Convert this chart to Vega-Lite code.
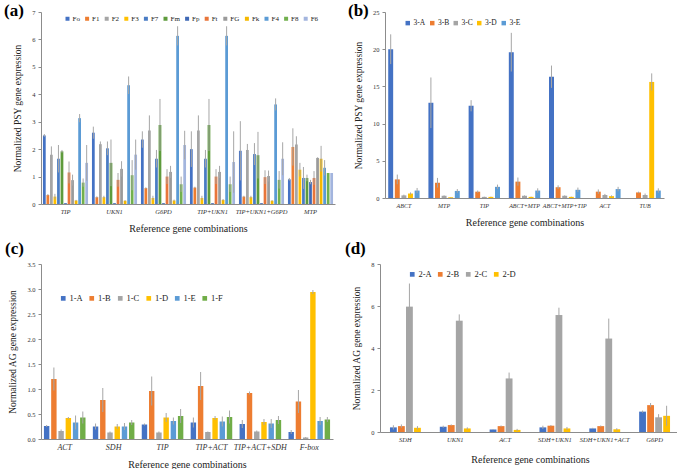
{
"$schema": "https://vega.github.io/schema/vega-lite/v6.json",
"padding": {"left": 4, "top": 2, "right": 0, "bottom": 0},
"background": "white",
"spacing": 6,
"config": {
  "view": {"stroke": null},
  "font": "Liberation Serif",
  "axis": {"domainColor": "#8c8c8c", "tickColor": "#8c8c8c", "labelColor": "#333", "titleColor": "#222", "titleFontWeight": "normal", "labelFont": "Liberation Serif", "titleFont": "Liberation Serif", "grid": false},
  "axisX": {"labelFontStyle": "italic", "labelFontSize": 7, "labelAngle": 0, "ticks": false, "titleFontSize": 10, "titlePadding": 9, "labelPadding": 4, "labelOverlap": false},
  "axisY": {"labelFontSize": 6.5, "titleFontSize": 9.5, "tickSize": 3, "titlePadding": 9, "labelPadding": 3},
  "legend": {"orient": "none", "direction": "horizontal", "symbolType": "square", "labelFont": "Liberation Serif", "labelColor": "#222", "symbolStrokeWidth": 0, "title": null},
  "title": {"font": "Liberation Serif", "fontWeight": "bold", "fontSize": 17, "anchor": "start", "frame": "group", "color": "#000"}
},
"resolve": {"scale": {"color": "independent", "x": "independent", "y": "independent", "xOffset": "independent"}},
"vconcat": [
{
"spacing": 13,
"resolve": {"scale": {"color": "independent", "x": "independent", "y": "independent", "xOffset": "independent"}},
"hconcat": [
{
  "width": 294, "height": 192,
  "title": {"text": "(a)", "dx": -37, "offset": -11},
  "data": {"values": [
    {"c":"TIP","s":"Fo","v":2.5,"e":0.05},{"c":"TIP","s":"F1","v":0.33,"e":0.03},{"c":"TIP","s":"F2","v":1.8,"e":0.3},{"c":"TIP","s":"F3","v":0.27,"e":0.1},{"c":"TIP","s":"F7","v":1.65,"e":0.5},{"c":"TIP","s":"Fm","v":1.92,"e":0.05},{"c":"TIP","s":"Fp","v":0.03,"e":0},{"c":"TIP","s":"Ft","v":1.15,"e":0.4},{"c":"TIP","s":"FG","v":0.87,"e":0.2},{"c":"TIP","s":"Fk","v":0.13,"e":0.02},{"c":"TIP","s":"F4","v":3.13,"e":0.15},{"c":"TIP","s":"F8","v":0.78,"e":0.15},{"c":"TIP","s":"F6","v":1.5,"e":0.65},
    {"c":"UKN1","s":"Fo","v":2.6,"e":0.22},{"c":"UKN1","s":"F1","v":0.25,"e":0.03},{"c":"UKN1","s":"F2","v":2.18,"e":0.1},{"c":"UKN1","s":"F3","v":0.25,"e":0.05},{"c":"UKN1","s":"F7","v":2.03,"e":0.25},{"c":"UKN1","s":"Fm","v":1.5,"e":0.85},{"c":"UKN1","s":"Fp","v":0.03,"e":0},{"c":"UKN1","s":"Ft","v":0.88,"e":0.25},{"c":"UKN1","s":"FG","v":1.28,"e":0.28},{"c":"UKN1","s":"Fk","v":0.12,"e":0.02},{"c":"UKN1","s":"F4","v":4.33,"e":0.32},{"c":"UKN1","s":"F8","v":1.05,"e":0.55},{"c":"UKN1","s":"F6","v":1.8,"e":0.55},
    {"c":"G6PD","s":"Fo","v":2.35,"e":0.3},{"c":"G6PD","s":"F1","v":0.58,"e":0.03},{"c":"G6PD","s":"F2","v":2.68,"e":0.55},{"c":"G6PD","s":"F3","v":0.22,"e":0.08},{"c":"G6PD","s":"F7","v":1.65,"e":0.32},{"c":"G6PD","s":"Fm","v":2.88,"e":0.95},{"c":"G6PD","s":"Fp","v":0.03,"e":0},{"c":"G6PD","s":"Ft","v":1.0,"e":0.27},{"c":"G6PD","s":"FG","v":1.17,"e":0.22},{"c":"G6PD","s":"Fk","v":0.13,"e":0.03},{"c":"G6PD","s":"F4","v":6.13,"e":0.35},{"c":"G6PD","s":"F8","v":0.72,"e":0.28},{"c":"G6PD","s":"F6","v":2.15,"e":0.52},
    {"c":"TIP+UKN1","s":"Fo","v":2.0,"e":0.65},{"c":"TIP+UKN1","s":"F1","v":0.6,"e":0.03},{"c":"TIP+UKN1","s":"F2","v":2.68,"e":0.55},{"c":"TIP+UKN1","s":"F3","v":0.22,"e":0.08},{"c":"TIP+UKN1","s":"F7","v":1.65,"e":0.32},{"c":"TIP+UKN1","s":"Fm","v":2.88,"e":0.95},{"c":"TIP+UKN1","s":"Fp","v":0.03,"e":0},{"c":"TIP+UKN1","s":"Ft","v":1.0,"e":0.27},{"c":"TIP+UKN1","s":"FG","v":1.17,"e":0.22},{"c":"TIP+UKN1","s":"Fk","v":0.15,"e":0.03},{"c":"TIP+UKN1","s":"F4","v":6.13,"e":0.35},{"c":"TIP+UKN1","s":"F8","v":0.72,"e":0.28},{"c":"TIP+UKN1","s":"F6","v":1.53,"e":1.12},
    {"c":"TIP+UKN1+G6PD","s":"Fo","v":1.94,"e":1.08},{"c":"TIP+UKN1+G6PD","s":"F1","v":0.27,"e":0.03},{"c":"TIP+UKN1+G6PD","s":"F2","v":1.97,"e":0.22},{"c":"TIP+UKN1+G6PD","s":"F3","v":0.25,"e":0.05},{"c":"TIP+UKN1+G6PD","s":"F7","v":1.82,"e":0.4},{"c":"TIP+UKN1+G6PD","s":"Fm","v":1.78,"e":0.85},{"c":"TIP+UKN1+G6PD","s":"Fp","v":0.03,"e":0},{"c":"TIP+UKN1+G6PD","s":"Ft","v":0.98,"e":0.25},{"c":"TIP+UKN1+G6PD","s":"FG","v":1.02,"e":0.2},{"c":"TIP+UKN1+G6PD","s":"Fk","v":0.12,"e":0.02},{"c":"TIP+UKN1+G6PD","s":"F4","v":3.63,"e":0.22},{"c":"TIP+UKN1+G6PD","s":"F8","v":0.88,"e":0.32},{"c":"TIP+UKN1+G6PD","s":"F6","v":1.65,"e":0.6},
    {"c":"MTP","s":"Fo","v":0.9,"e":0.05},{"c":"MTP","s":"F1","v":2.08,"e":0.68},{"c":"MTP","s":"F2","v":2.17,"e":0.3},{"c":"MTP","s":"F3","v":1.25,"e":0.25},{"c":"MTP","s":"F7","v":0.95,"e":0.4},{"c":"MTP","s":"Fm","v":0.95,"e":0.12},{"c":"MTP","s":"Fp","v":0.8,"e":0.08},{"c":"MTP","s":"Ft","v":0.95,"e":0.25},{"c":"MTP","s":"FG","v":1.68,"e":0.02},{"c":"MTP","s":"Fk","v":1.65,"e":0.47},{"c":"MTP","s":"F4","v":1.32,"e":0.28},{"c":"MTP","s":"F8","v":1.13,"e":0},{"c":"MTP","s":"F6","v":1.13,"e":0}
  ]},
  "encoding": {
    "x": {"field": "c", "type": "nominal", "sort": ["TIP","UKN1","G6PD","TIP+UKN1","TIP+UKN1+G6PD","MTP"], "scale": {"paddingInner": 0.08, "paddingOuter": 0.04}, "axis": {"title": "Reference gene combinations", "labelFontSize": 6.5}},
    "xOffset": {"field": "s", "type": "nominal", "sort": ["Fo","F1","F2","F3","F7","Fm","Fp","Ft","FG","Fk","F4","F8","F6"], "scale": {"paddingInner": 0.22}},
    "y": {"field": "v", "type": "quantitative", "scale": {"domain": [0, 7], "clamp": true}, "axis": {"title": "Normalized PSY gene expression", "values": [0,1,2,3,4,5,6,7]}}
  },
  "layer": [
    {"mark": {"type": "bar"}, "encoding": {
      "color": {"field": "s", "type": "nominal", "scale": {"domain": ["Fo","F1","F2","F3","F7","Fm","Fp","Ft","FG","Fk","F4","F8","F6"], "range": ["#4472C4","#ED7D31","#A5A5A5","#FFC000","#4A7CC4","#5E9B3C","#3F68B5","#E8753A","#9A9A9A","#F5B800","#5B9BD5","#72B04E","#A3B5DE"]},
        "legend": {"legendX": 23, "legendY": 3, "columns": 13, "symbolSize": 16, "labelFontSize": 7, "labelOffset": 1.5, "columnPadding": 3.6}}
    }},
    {"mark": {"type": "errorbar", "color": "#a6a6a6", "thickness": 1}, "encoding": {"yError": {"field": "e"}}}
  ]
},
{
  "width": 279, "height": 186,
  "title": {"text": "(b)", "dx": -37, "offset": -11},
  "data": {"values": [
    {"c":"ABCT","s":"3-A","v":20.0,"e":2.0},{"c":"ABCT","s":"3-B","v":2.5,"e":0.65},{"c":"ABCT","s":"3-C","v":0.35,"e":0.1},{"c":"ABCT","s":"3-D","v":0.6,"e":0.15},{"c":"ABCT","s":"3-E","v":1.0,"e":0.35},
    {"c":"MTP","s":"3-A","v":12.8,"e":3.4},{"c":"MTP","s":"3-B","v":2.05,"e":0.65},{"c":"MTP","s":"3-C","v":0.3,"e":0.05},{"c":"MTP","s":"3-D","v":0.1,"e":0.03},{"c":"MTP","s":"3-E","v":0.95,"e":0.25},
    {"c":"TIP","s":"3-A","v":12.4,"e":0.75},{"c":"TIP","s":"3-B","v":0.85,"e":0.15},{"c":"TIP","s":"3-C","v":0.15,"e":0.03},{"c":"TIP","s":"3-D","v":0.15,"e":0.03},{"c":"TIP","s":"3-E","v":1.5,"e":0.3},
    {"c":"ABCT+MTP","s":"3-A","v":19.6,"e":2.6},{"c":"ABCT+MTP","s":"3-B","v":2.2,"e":0.55},{"c":"ABCT+MTP","s":"3-C","v":0.3,"e":0.05},{"c":"ABCT+MTP","s":"3-D","v":0.15,"e":0.03},{"c":"ABCT+MTP","s":"3-E","v":1.0,"e":0.3},
    {"c":"ABCT+MTP+TIP","s":"3-A","v":16.3,"e":1.5},{"c":"ABCT+MTP+TIP","s":"3-B","v":1.45,"e":0.25},{"c":"ABCT+MTP+TIP","s":"3-C","v":0.3,"e":0.05},{"c":"ABCT+MTP+TIP","s":"3-D","v":0.15,"e":0.03},{"c":"ABCT+MTP+TIP","s":"3-E","v":1.1,"e":0.3},
    {"c":"ACT","s":"3-A","v":0,"e":0},{"c":"ACT","s":"3-B","v":0.85,"e":0.3},{"c":"ACT","s":"3-C","v":0.4,"e":0.15},{"c":"ACT","s":"3-D","v":0.25,"e":0.1},{"c":"ACT","s":"3-E","v":1.2,"e":0.3},
    {"c":"TUB","s":"3-A","v":0,"e":0},{"c":"TUB","s":"3-B","v":0.75,"e":0.1},{"c":"TUB","s":"3-C","v":0.4,"e":0.2},{"c":"TUB","s":"3-D","v":15.6,"e":1.15},{"c":"TUB","s":"3-E","v":1.0,"e":0.3}
  ]},
  "encoding": {
    "x": {"field": "c", "type": "nominal", "sort": ["ABCT","MTP","TIP","ABCT+MTP","ABCT+MTP+TIP","ACT","TUB"], "scale": {"paddingInner": 0.22, "paddingOuter": 0.08}, "axis": {"title": "Reference gene combinations", "labelFontSize": 6}},
    "xOffset": {"field": "s", "type": "nominal", "sort": ["3-A","3-B","3-C","3-D","3-E"], "scale": {"paddingInner": 0.25}},
    "y": {"field": "v", "type": "quantitative", "scale": {"domain": [0, 25], "clamp": true}, "axis": {"title": "Normalized PSY gene expression", "values": [0,5,10,15,20,25]}}
  },
  "layer": [
    {"mark": {"type": "bar"}, "encoding": {
      "color": {"field": "s", "type": "nominal", "scale": {"domain": ["3-A","3-B","3-C","3-D","3-E"], "range": ["#4472C4","#ED7D31","#A5A5A5","#FFC000","#5B9BD5"]},
        "legend": {"legendX": 19, "legendY": 7, "columns": 5, "symbolSize": 20, "labelFontSize": 7.5, "labelOffset": 2, "columnPadding": 2.5}}
    }},
    {"mark": {"type": "errorbar", "color": "#a6a6a6", "thickness": 1}, "encoding": {"yError": {"field": "e"}}}
  ]
}
]
},
{
"spacing": 12,
"resolve": {"scale": {"color": "independent", "x": "independent", "y": "independent", "xOffset": "independent"}},
"hconcat": [
{
  "width": 292, "height": 175,
  "title": {"text": "(c)", "dx": -36, "offset": 3},
  "data": {"values": [
    {"c":"ACT","s":"1-A","v":0.26,"e":0.02},{"c":"ACT","s":"1-B","v":1.2,"e":0.23},{"c":"ACT","s":"1-C","v":0.16,"e":0.03},{"c":"ACT","s":"1-D","v":0.42,"e":0.02},{"c":"ACT","s":"1-E","v":0.33,"e":0.14},{"c":"ACT","s":"1-F","v":0.43,"e":0.12},
    {"c":"SDH","s":"1-A","v":0.25,"e":0.06},{"c":"SDH","s":"1-B","v":0.78,"e":0.24},{"c":"SDH","s":"1-C","v":0.13,"e":0.02},{"c":"SDH","s":"1-D","v":0.25,"e":0.05},{"c":"SDH","s":"1-E","v":0.25,"e":0.07},{"c":"SDH","s":"1-F","v":0.33,"e":0.05},
    {"c":"TIP","s":"1-A","v":0.29,"e":0.02},{"c":"TIP","s":"1-B","v":0.96,"e":0.29},{"c":"TIP","s":"1-C","v":0.13,"e":0.02},{"c":"TIP","s":"1-D","v":0.43,"e":0.09},{"c":"TIP","s":"1-E","v":0.36,"e":0.07},{"c":"TIP","s":"1-F","v":0.46,"e":0.14},
    {"c":"TIP+ACT","s":"1-A","v":0.33,"e":0.1},{"c":"TIP+ACT","s":"1-B","v":1.06,"e":0.28},{"c":"TIP+ACT","s":"1-C","v":0.14,"e":0.01},{"c":"TIP+ACT","s":"1-D","v":0.42,"e":0.04},{"c":"TIP+ACT","s":"1-E","v":0.35,"e":0.1},{"c":"TIP+ACT","s":"1-F","v":0.44,"e":0.13},
    {"c":"TIP+ACT+SDH","s":"1-A","v":0.3,"e":0.08},{"c":"TIP+ACT+SDH","s":"1-B","v":0.92,"e":0.03},{"c":"TIP+ACT+SDH","s":"1-C","v":0.15,"e":0.02},{"c":"TIP+ACT+SDH","s":"1-D","v":0.34,"e":0.06},{"c":"TIP+ACT+SDH","s":"1-E","v":0.31,"e":0.09},{"c":"TIP+ACT+SDH","s":"1-F","v":0.38,"e":0.08},
    {"c":"F-box","s":"1-A","v":0.14,"e":0.04},{"c":"F-box","s":"1-B","v":0.75,"e":0.23},{"c":"F-box","s":"1-C","v":0.03,"e":0.01},{"c":"F-box","s":"1-D","v":2.94,"e":0.04},{"c":"F-box","s":"1-E","v":0.36,"e":0.08},{"c":"F-box","s":"1-F","v":0.39,"e":0.05}
  ]},
  "encoding": {
    "x": {"field": "c", "type": "nominal", "sort": ["ACT","SDH","TIP","TIP+ACT","TIP+ACT+SDH","F-box"], "scale": {"paddingInner": 0.15, "paddingOuter": 0.06}, "axis": {"title": "Reference gene combinations", "labelFontSize": 8, "titlePadding": 8}},
    "xOffset": {"field": "s", "type": "nominal", "sort": ["1-A","1-B","1-C","1-D","1-E","1-F"], "scale": {"paddingInner": 0.25}},
    "y": {"field": "v", "type": "quantitative", "scale": {"domain": [0, 3.5], "clamp": true}, "axis": {"title": "Normalized AG gene expression", "values": [0,0.5,1,1.5,2,2.5,3,3.5]}}
  },
  "layer": [
    {"mark": {"type": "bar"}, "encoding": {
      "color": {"field": "s", "type": "nominal", "scale": {"domain": ["1-A","1-B","1-C","1-D","1-E","1-F"], "range": ["#4472C4","#ED7D31","#A5A5A5","#FFC000","#5B9BD5","#70AD47"]},
        "legend": {"legendX": 18, "legendY": 30, "columns": 6, "symbolSize": 22, "labelFontSize": 8.5, "labelOffset": 2, "columnPadding": 4.5}}
    }},
    {"mark": {"type": "errorbar", "color": "#a6a6a6", "thickness": 1}, "encoding": {"yError": {"field": "e"}}}
  ]
},
{
  "width": 300, "height": 168,
  "title": {"text": "(d)", "dx": -35, "offset": 3},
  "data": {"values": [
    {"c":"SDH","s":"2-A","v":0.22,"e":0.1},{"c":"SDH","s":"2-B","v":0.28,"e":0.08},{"c":"SDH","s":"2-C","v":5.97,"e":1.1},{"c":"SDH","s":"2-D","v":0.2,"e":0.08},
    {"c":"UKN1","s":"2-A","v":0.25,"e":0.05},{"c":"UKN1","s":"2-B","v":0.33,"e":0.03},{"c":"UKN1","s":"2-C","v":5.3,"e":0.3},{"c":"UKN1","s":"2-D","v":0.17,"e":0.05},
    {"c":"ACT","s":"2-A","v":0.12,"e":0.02},{"c":"ACT","s":"2-B","v":0.28,"e":0.03},{"c":"ACT","s":"2-C","v":2.55,"e":0.28},{"c":"ACT","s":"2-D","v":0.1,"e":0.05},
    {"c":"SDH+UKN1","s":"2-A","v":0.22,"e":0.08},{"c":"SDH+UKN1","s":"2-B","v":0.3,"e":0.03},{"c":"SDH+UKN1","s":"2-C","v":5.57,"e":0.35},{"c":"SDH+UKN1","s":"2-D","v":0.17,"e":0.07},
    {"c":"SDH+UKN1+ACT","s":"2-A","v":0.17,"e":0.03},{"c":"SDH+UKN1+ACT","s":"2-B","v":0.28,"e":0.03},{"c":"SDH+UKN1+ACT","s":"2-C","v":4.45,"e":0.95},{"c":"SDH+UKN1+ACT","s":"2-D","v":0.13,"e":0.05},
    {"c":"G6PD","s":"2-A","v":0.97,"e":0.05},{"c":"G6PD","s":"2-B","v":1.28,"e":0.1},{"c":"G6PD","s":"2-C","v":0.7,"e":0.15},{"c":"G6PD","s":"2-D","v":0.77,"e":0.48}
  ]},
  "encoding": {
    "x": {"field": "c", "type": "nominal", "sort": ["SDH","UKN1","ACT","SDH+UKN1","SDH+UKN1+ACT","G6PD"], "scale": {"paddingInner": 0.38, "paddingOuter": 0.2}, "axis": {"title": "Reference gene combinations", "labelFontSize": 6.5, "titlePadding": 12}},
    "xOffset": {"field": "s", "type": "nominal", "sort": ["2-A","2-B","2-C","2-D"], "scale": {"paddingInner": 0.15}},
    "y": {"field": "v", "type": "quantitative", "scale": {"domain": [0, 8], "clamp": true}, "axis": {"title": "Normalized AG gene expression", "values": [0,2,4,6,8]}}
  },
  "layer": [
    {"mark": {"type": "bar"}, "encoding": {
      "color": {"field": "s", "type": "nominal", "scale": {"domain": ["2-A","2-B","2-C","2-D"], "range": ["#4472C4","#ED7D31","#A5A5A5","#FFC000"]},
        "legend": {"legendX": 28, "legendY": 6, "columns": 4, "symbolSize": 22, "labelFontSize": 8.5, "labelOffset": 2, "columnPadding": 4}}
    }},
    {"mark": {"type": "errorbar", "color": "#a6a6a6", "thickness": 1}, "encoding": {"yError": {"field": "e"}}}
  ]
}
]
}
]
}
